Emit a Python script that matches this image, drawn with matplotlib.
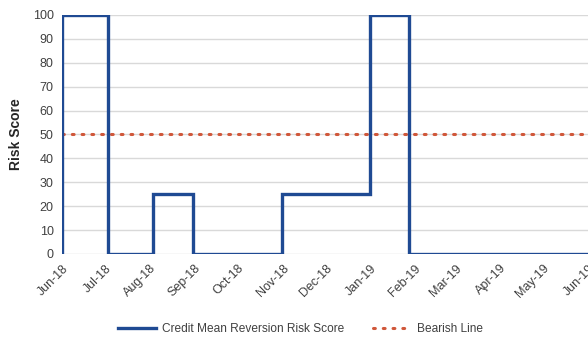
import matplotlib
matplotlib.use("Agg")
import matplotlib.pyplot as plt
import matplotlib.dates as mdates
import pandas as pd

plt.rcParams['font.family'] = ['Liberation Sans', 'DejaVu Sans']

# step changes of the risk score (value holds until the next date)
change_dates = ['2018-06-01', '2018-06-01', '2018-07-03', '2018-08-03', '2018-08-31',
                '2018-11-01', '2019-01-01', '2019-01-28', '2019-06-01']
risk_score = [0, 100, 0, 25, 0, 25, 100, 0, 0]
bearish_level = 50
month_ticks = pd.date_range('2018-06-01', '2019-06-01', freq='MS')

dates = pd.to_datetime(change_dates)

fig = plt.figure(figsize=(5.88, 3.37), dpi=100)
ax = fig.add_axes([0.1054, 0.2463, 0.8946, 0.7092])

ax.plot(dates, risk_score, drawstyle='steps-post', color='#1F4A93', lw=2.4,
        label='Credit Mean Reversion Risk Score', solid_joinstyle='miter', zorder=3)
ax.plot([month_ticks[0], month_ticks[-1]], [bearish_level, bearish_level],
        color='#D0573A', lw=2.2, linestyle=(0, (0.6, 2.6)), dash_capstyle='round',
        label='Bearish Line', zorder=2)

ax.set_xlim(month_ticks[0], month_ticks[-1])
ax.set_ylim(0, 100)
ax.set_yticks(range(0, 101, 10))
ax.set_xticks(month_ticks)
ax.xaxis.set_major_formatter(mdates.DateFormatter('%b-%y'))
ax.tick_params(axis='both', length=0, labelsize=9, labelcolor='#404040')
ax.tick_params(axis='y', pad=6)
ax.tick_params(axis='x', pad=6)
for lbl in ax.get_xticklabels():
    lbl.set_rotation(45)
    lbl.set_ha('right')
    lbl.set_va('top')
    lbl.set_rotation_mode('anchor')

ax.grid(axis='y', color='#D9D9D9', lw=1)
ax.set_axisbelow(True)
for s in ax.spines.values():
    s.set_visible(False)

ax.set_ylabel('Risk Score', fontsize=10, fontweight='bold', color='#262626', labelpad=7)

ax.legend(loc='upper center', bbox_to_anchor=(0.454, -0.245), ncol=2, frameon=False,
          fontsize=8.6, handlelength=3.2, handletextpad=0.5, columnspacing=2.4,
          labelcolor='#404040')

fig.savefig('out.png', dpi=100)
